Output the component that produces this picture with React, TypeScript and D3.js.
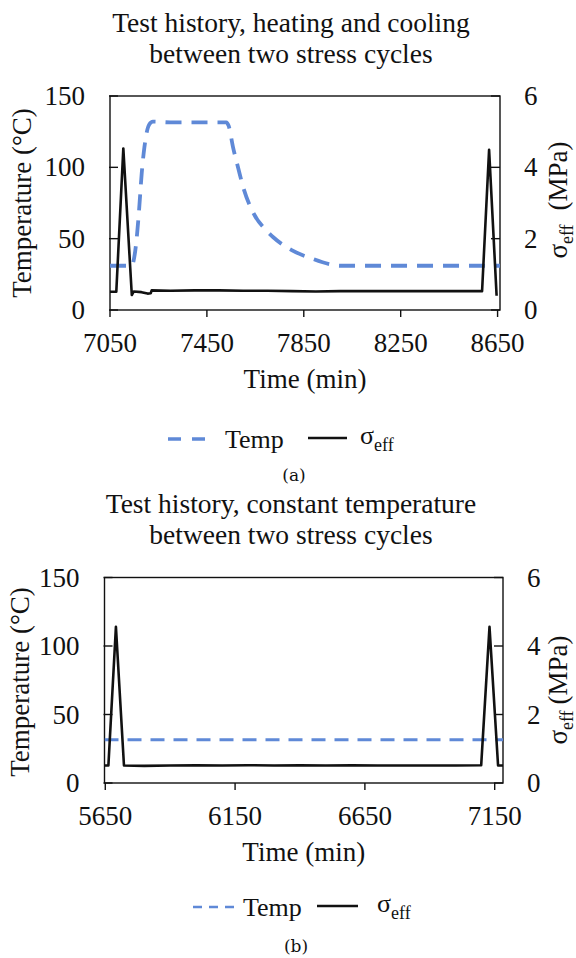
import React, { useEffect, useRef } from 'react';
import * as d3 from 'd3';

// ---- data ----
// (a) heating and cooling
const tempTimeA = [7050, 7140, 7148, 7160, 7170, 7181, 7192, 7201, 7212, 7227, 7300, 7400, 7530, 7540, 7558, 7580, 7600, 7642, 7700, 7724, 7800, 7884, 7960, 8000, 8200, 8400, 8660];
const tempA = [31, 31, 35, 50, 70, 96, 114, 124, 130, 132, 131.5, 131.5, 131.5, 129, 114, 99, 86, 68, 55, 51, 42, 36, 32, 31, 31, 31, 31];
const stressTimeA = [7050, 7076, 7105, 7140, 7148, 7180, 7205, 7218, 7222, 7300, 7400, 7500, 7600, 7700, 7800, 7900, 8000, 8100, 8200, 8300, 8400, 8500, 8586, 8615, 8646];
const stressA = [0.51, 0.51, 4.53, 0.42, 0.52, 0.5, 0.46, 0.47, 0.55, 0.54, 0.55, 0.55, 0.54, 0.54, 0.53, 0.52, 0.53, 0.53, 0.53, 0.53, 0.53, 0.53, 0.53, 4.49, 0.4];

// (b) constant temperature
const tempTimeB = [5647, 7182];
const tempB = [31.5, 31.5];
const stressTimeB = [5647, 5662, 5691, 5722, 5800, 5900, 6000, 6100, 6200, 6300, 6400, 6500, 6600, 6700, 6800, 6900, 7000, 7098, 7130, 7163, 7182];
const stressB = [0.51, 0.51, 4.56, 0.51, 0.5, 0.51, 0.52, 0.51, 0.52, 0.51, 0.52, 0.51, 0.52, 0.51, 0.51, 0.51, 0.51, 0.52, 4.56, 0.51, 0.51];

const xTicksA = [7050, 7450, 7850, 8250, 8650];
const xTicksB = [5650, 6150, 6650, 7150];
const tempTicks = [0, 50, 100, 150];
const stressTicks = [0, 2, 4, 6];

const FONT = '"Liberation Serif", "Times New Roman", serif';
const BLUE = '#5f89d7';

function drawPanel(svg, p) {
  const g = svg.append('g');
  const x = d3.scaleLinear().domain(p.xDomain).range([p.left, p.right]);
  const yT = d3.scaleLinear().domain([0, 150]).range([p.bottom, p.top]);
  const yS = d3.scaleLinear().domain([0, 6]).range([p.bottom, p.top]);

  // title
  p.title.forEach((t, i) => {
    g.append('text')
      .attr('x', 291).attr('y', p.titleY + i * 31)
      .attr('text-anchor', 'middle')
      .style('font-size', '27.5px')
      .text(t);
  });

  // frame
  g.append('rect')
    .attr('x', p.left).attr('y', p.top)
    .attr('width', p.right - p.left).attr('height', p.bottom - p.top)
    .attr('fill', 'none').attr('stroke', '#111').attr('stroke-width', 1.4);

  // left ticks (inside)
  tempTicks.forEach(v => {
    g.append('line')
      .attr('x1', p.left - 1).attr('x2', p.left + 8)
      .attr('y1', yT(v)).attr('y2', yT(v))
      .attr('stroke', '#111').attr('stroke-width', 1.4);
    g.append('text')
      .attr('x', p.left - 25).attr('y', yT(v) + 9)
      .attr('text-anchor', 'end')
      .style('font-size', '27px')
      .text(v);
  });

  // right ticks (inside)
  stressTicks.forEach(v => {
    g.append('line')
      .attr('x1', p.right - 9).attr('x2', p.right)
      .attr('y1', yS(v)).attr('y2', yS(v))
      .attr('stroke', '#111').attr('stroke-width', 1.4);
    g.append('text')
      .attr('x', p.right + 24).attr('y', yS(v) + 9)
      .style('font-size', '27px')
      .text(v);
  });

  // bottom ticks (outside)
  p.xTicks.forEach(v => {
    g.append('line')
      .attr('x1', x(v)).attr('x2', x(v))
      .attr('y1', p.bottom).attr('y2', p.bottom + 7)
      .attr('stroke', '#111').attr('stroke-width', 1.4);
    g.append('text')
      .attr('x', x(v)).attr('y', p.bottom + 42)
      .attr('text-anchor', 'middle')
      .style('font-size', '27px')
      .text(v);
  });

  // axis titles
  g.append('text')
    .attr('x', (p.left + p.right) / 2).attr('y', p.bottom + 78)
    .attr('text-anchor', 'middle')
    .style('font-size', '27px')
    .text('Time (min)');

  g.append('text')
    .attr('transform', `translate(${p.leftTitleX},${p.leftTitleY}) rotate(-90)`)
    .attr('text-anchor', 'middle')
    .style('font-size', '27px')
    .text('Temperature (°C)');

  const rt = g.append('text')
    .attr('transform', `translate(567,${p.rightTitleY}) rotate(-90)`)
    .attr('text-anchor', 'middle')
    .style('font-size', '27px');
  rt.append('tspan').text('σ');
  rt.append('tspan').attr('dy', 6).style('font-size', '18px').text('eff');
  rt.append('tspan').attr('dy', -6).attr('dx', p.rightGap).text('(MPa)');

  // series
  const clipId = `clip-${p.id}`;
  g.append('clipPath').attr('id', clipId)
    .append('rect')
    .attr('x', p.left).attr('y', p.top - 5)
    .attr('width', p.right - p.left).attr('height', p.bottom - p.top + 5);

  const tempLine = d3.line()
    .x(i => x(p.tempTime[i]))
    .y(i => yT(p.temp[i]))
    .curve(d3.curveMonotoneX);
  g.append('path')
    .attr('clip-path', `url(#${clipId})`)
    .attr('d', tempLine(d3.range(p.temp.length)))
    .attr('fill', 'none')
    .attr('stroke', BLUE)
    .attr('stroke-width', p.tempWidth)
    .attr('stroke-dasharray', p.tempDash);

  const stressLine = d3.line()
    .x(i => x(p.stressTime[i]))
    .y(i => yS(p.stress[i]));
  g.append('path')
    .attr('clip-path', `url(#${clipId})`)
    .attr('d', stressLine(d3.range(p.stress.length)))
    .attr('fill', 'none')
    .attr('stroke', '#111')
    .attr('stroke-width', 2.6)
    .attr('stroke-linejoin', 'round');

  // legend
  const L = p.legend;
  g.append('line')
    .attr('x1', L.dashX[0]).attr('x2', L.dashX[1])
    .attr('y1', L.y).attr('y2', L.y)
    .attr('stroke', BLUE).attr('stroke-width', L.dashWidth)
    .attr('stroke-dasharray', L.dash);
  g.append('text')
    .attr('x', L.tempX).attr('y', L.y + 9)
    .style('font-size', '26px')
    .text('Temp');
  g.append('line')
    .attr('x1', L.solidX[0]).attr('x2', L.solidX[1])
    .attr('y1', L.y - 1).attr('y2', L.y - 1)
    .attr('stroke', '#111').attr('stroke-width', 2.6);
  const ls = g.append('text')
    .attr('x', L.sigmaX).attr('y', L.y + 5)
    .style('font-size', '26px');
  ls.append('tspan').text('σ');
  ls.append('tspan').attr('dy', 7).style('font-size', '18px').text('eff');

  // caption
  g.append('text')
    .attr('x', p.captionX).attr('y', p.captionY)
    .attr('text-anchor', 'middle')
    .style('font-family', '"DejaVu Serif", serif')
    .style('font-size', '17px')
    .text(p.caption);
}

function App() {
  const svgRef = useRef();

  useEffect(() => {
    const svg = d3.select(svgRef.current);
    svg.selectAll('*').remove();
    svg.style('font-family', FONT).attr('fill', '#111');

    drawPanel(svg, {
      id: 'a',
      title: ['Test history, heating and cooling', 'between two stress cycles'],
      titleY: 32,
      left: 110, right: 500, top: 96, bottom: 310,
      xDomain: [7050, 8660], xTicks: xTicksA,
      tempTime: tempTimeA, temp: tempA,
      stressTime: stressTimeA, stress: stressA,
      tempWidth: 3.8, tempDash: '16 10',
      leftTitleX: 31, leftTitleY: 203,
      rightTitleY: 200, rightGap: 14,
      legend: { y: 439, dashX: [168, 205], dash: '13 11', dashWidth: 3.4, tempX: 225, solidX: [308, 347], sigmaX: 360 },
      caption: '(a)', captionX: 294, captionY: 481,
    });

    drawPanel(svg, {
      id: 'b',
      title: ['Test history, constant temperature', 'between two stress cycles'],
      titleY: 513,
      left: 104.5, right: 503, top: 577.5, bottom: 783,
      xDomain: [5647, 7182], xTicks: xTicksB,
      tempTime: tempTimeB, temp: tempB,
      stressTime: stressTimeB, stress: stressB,
      tempWidth: 3, tempDash: '14 9',
      leftTitleX: 29, leftTitleY: 682,
      rightTitleY: 690, rightGap: 6,
      legend: { y: 907, dashX: [193, 237], dash: '9 7', dashWidth: 2.6, tempX: 243, solidX: [317, 358], sigmaX: 377 },
      caption: '(b)', captionX: 296, captionY: 952,
    });
  }, []);

  return (
    <svg
      ref={svgRef}
      width={576}
      height={958}
      style={{ position: 'absolute', left: 0, top: 0, background: '#fff' }}
    />
  );
}

export default App;
